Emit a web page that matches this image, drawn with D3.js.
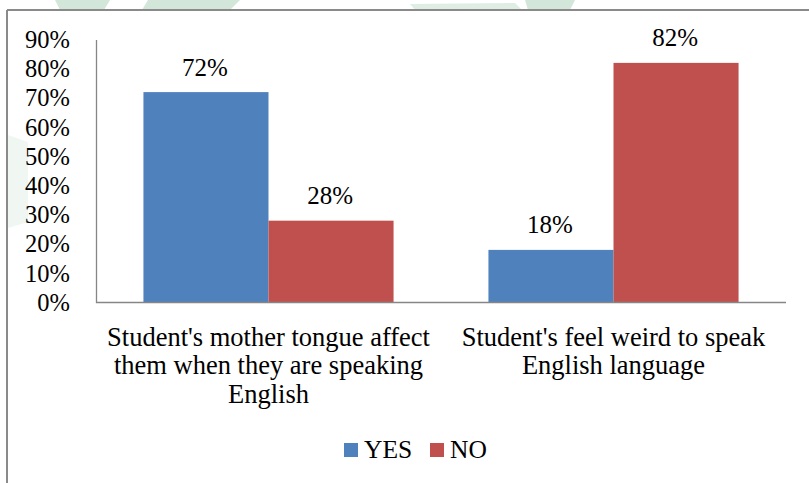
<!DOCTYPE html>
<html>
<head>
<meta charset="utf-8">
<script src="https://cdn.jsdelivr.net/npm/d3@7"></script>
<style>
  html, body { margin: 0; padding: 0; background: #fff; }
  svg { display: block; }
  text { font-family: "Liberation Serif", "Times New Roman", serif; fill: #000; }
</style>
</head>
<body>
<svg id="chart" width="809" height="483"></svg>
<script>
// Survey responses (percent)
const categories = [
  ["Student's mother tongue affect", "them when they are speaking", "English"],
  ["Student's feel weird to speak", "English language"]
];
const seriesNames = ["YES", "NO"];
const yesValues = [72, 18];
const noValues = [28, 82];
const yTicks = [0, 10, 20, 30, 40, 50, 60, 70, 80, 90];
const colors = ["#4F81BD", "#C0504D"];

const svg = d3.select("#chart");
const W = 809, H = 483;
// text is set at a base size and scaled up to its final size
const baseFont = 23;
const tickScale = 24.5 / baseFont, valueScale = 25 / baseFont,
      catScale = 26.5 / baseFont, legendScale = 25.5 / baseFont;

// faint background emblem
const wm = svg.append("g").attr("fill", "#d3e6da");
wm.append("polygon").attr("points", "55,0 110,0 104,10 60,10");
wm.append("polygon").attr("points", "148,0 240,0 230,10 142,10");
wm.append("polygon").attr("points", "410,4 515,3 522,10 415,10").attr("opacity", 0.7);
wm.append("polygon").attr("points", "525,0 575,0 570,10 528,10");
wm.append("polygon").attr("points", "8,135 28,142 28,222 8,228").attr("opacity", 0.35);

// chart frame (left and top edges visible)
const frame = svg.append("g").attr("stroke", "#8a8a8a").attr("stroke-width", 2).attr("fill", "none");
frame.append("line").attr("x1", 7).attr("x2", W).attr("y1", 10).attr("y2", 10);
frame.append("line").attr("x1", 7).attr("x2", 7).attr("y1", 10).attr("y2", H);

const plot = { left: 96, right: 786, top: 39.5, bottom: 302.5 };

const x0 = d3.scaleBand()
  .domain(d3.range(categories.length))
  .range([plot.left, plot.right])
  .paddingInner(0.275)
  .paddingOuter(0.1375);
const x1 = d3.scaleBand()
  .domain(seriesNames)
  .range([0, x0.bandwidth()]);
const y = d3.scaleLinear().domain([0, 90]).range([plot.bottom, plot.top]);

// y axis
const tickPad = 26;
const yAxis = d3.axisLeft(y)
  .tickValues(yTicks)
  .tickFormat(d => d + "%")
  .tickSize(0)
  .tickPadding(tickPad);
const gy = svg.append("g").attr("transform", `translate(${plot.left},0)`).call(yAxis);
gy.attr("font-family", null).attr("font-size", null);
gy.select(".domain").attr("stroke", "#868686").attr("stroke-width", 1.3);
gy.selectAll("text")
  .style("font-size", baseFont + "px")
  .attr("x", -tickPad / tickScale)
  .attr("transform", `scale(${tickScale})`)
  .attr("fill", "#000");

// bars
const data = categories.map((c, i) => ({ i, values: [yesValues[i], noValues[i]] }));
const groups = svg.append("g").selectAll("g")
  .data(data).join("g")
  .attr("transform", d => `translate(${x0(d.i)},0)`);

groups.selectAll("rect")
  .data(d => d.values.map((v, k) => ({ key: seriesNames[k], v, k })))
  .join("rect")
  .attr("x", d => x1(d.key))
  .attr("width", x1.bandwidth())
  .attr("y", d => y(d.v))
  .attr("height", d => y(0) - y(d.v))
  .attr("fill", d => colors[d.k]);

// value labels above bars
groups.selectAll("g.val")
  .data(d => d.values.map((v, k) => ({ key: seriesNames[k], v, k })))
  .join("g")
  .attr("class", "val")
  .attr("transform", d => `translate(${x1(d.key) + x1.bandwidth() / 2 - 1},${y(d.v) - 16.5}) scale(${valueScale})`)
  .append("text")
  .attr("text-anchor", "middle")
  .style("font-size", baseFont + "px")
  .text(d => d.v + "%");

// x baseline
svg.append("line")
  .attr("x1", plot.left).attr("x2", plot.right)
  .attr("y1", plot.bottom).attr("y2", plot.bottom)
  .attr("stroke", "#868686").attr("stroke-width", 1.5);

// category labels
const catG = svg.append("g");
categories.forEach((lines, i) => {
  const cx = x0(i) + x0.bandwidth() / 2;
  const t = catG.append("g")
    .attr("transform", `translate(${cx},345.5) scale(${catScale})`)
    .append("text")
    .attr("text-anchor", "middle")
    .style("font-size", baseFont + "px");
  lines.forEach((ln, j) => {
    t.append("tspan")
      .attr("x", 0)
      .attr("dy", j === 0 ? 0 : 28.7 / catScale)
      .text(ln);
  });
});

// legend
const legend = svg.append("g");
const legendItems = [
  { name: "YES", color: colors[0], x: 344 },
  { name: "NO", color: colors[1], x: 430 }
];
legendItems.forEach(it => {
  legend.append("rect")
    .attr("x", it.x).attr("y", 443)
    .attr("width", 14).attr("height", 14)
    .attr("fill", it.color);
  legend.append("g")
    .attr("transform", `translate(${it.x + 20},457.5) scale(${legendScale})`)
    .append("text")
    .style("font-size", baseFont + "px")
    .text(it.name);
});
</script>
</body>
</html>
